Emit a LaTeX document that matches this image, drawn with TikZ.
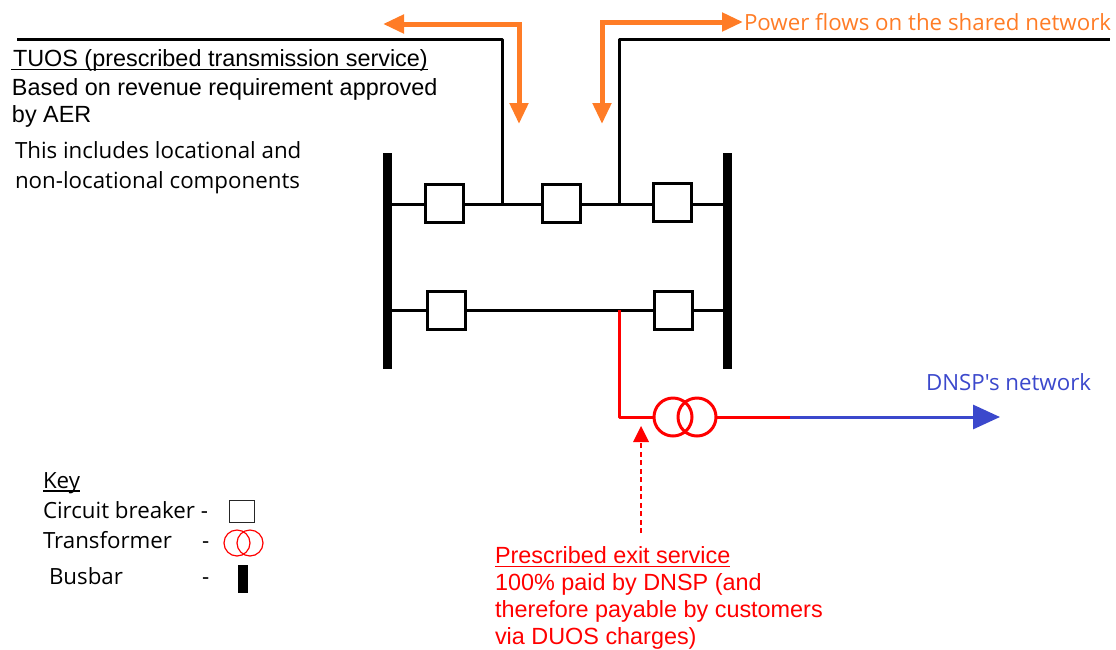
\documentclass[tikz,border=0pt]{standalone}
\usepackage{fontspec}
\setmainfont{Liberation Sans}
\newfontfamily\tah{Open Sans}
\usetikzlibrary{arrows.meta}
\definecolor{flow}{HTML}{FF7C26}
\definecolor{dnsp}{HTML}{3B48CC}
\newcommand\ulbox[2][4pt]{\setbox0\hbox{#2}\rlap{\rule[-#1]{\wd0}{1.3pt}}\box0}
\tikzset{
  x=1pt,y=-1pt,
  breaker/.style={draw=black,line width=3pt,fill=white,minimum width=38pt,minimum height=38pt,inner sep=0pt,outer sep=0pt},
  busbar/.style={fill=black,minimum width=9pt,minimum height=216pt,inner sep=0pt,outer sep=0pt},
  wire/.style={draw=black,line width=3pt,line join=round},
  redwire/.style={draw=red,line width=3pt,line join=round},
  txfm/.style={circle,draw=red,line width=3pt,minimum size=38pt,inner sep=0pt,outer sep=0pt},
  flowarrow/.style={draw=flow,line width=5pt,{Triangle[length=21pt,width=18pt]}-{Triangle[length=21pt,width=18pt]}},
  label/.style={inner sep=0pt,outer sep=0pt,anchor=base west,align=left},
  arial/.style={font=\fontsize{23.4}{28}\selectfont},
  tahoma/.style={font=\tah\fontsize{22.3}{26}\selectfont},
}
\begin{document}
\begin{tikzpicture}
\useasboundingbox (0,0) rectangle (1116,649);
% busbars
\node[busbar] (busL) at (387,261) {};
\node[busbar] (busR) at (727,261) {};
% junction coordinates
\coordinate (jt1) at (502,204);
\coordinate (jt2) at (619,204);
\coordinate (jb) at (619,310);
\coordinate (busLt) at (387,204);
\coordinate (busRt) at (727,204);
\coordinate (busLb) at (387,310);
\coordinate (busRb) at (727,310);
\coordinate (endL) at (17,39);
\coordinate (endR) at (1110,39);
% main wires
\draw[wire] (busLt) -- (busRt);
\draw[wire] (busLb) -- (busRb);
\draw[wire] (jt1) |- (endL);
\draw[wire] (jt2) |- (endR);
% breakers
\node[breaker] (cb1) at (444.5,203) {};
\node[breaker] (cb2) at (561.5,203) {};
\node[breaker] (cb3) at (672,202.5) {};
\node[breaker] (cb4) at (446.5,310) {};
\node[breaker] (cb5) at (673.5,310) {};
% transformer
\node[txfm] (t1) at (673,417) {};
\node[txfm] (t2) at (697,417) {};
\coordinate (mid) at (790,417);
\coordinate (dnspEnd) at (1000,417);
\draw[redwire] (jb) |- (t1.west);
\draw[redwire] (t2.east) -- (mid);
\draw[draw=dnsp,line width=3pt,-{Triangle[length=27pt,width=24pt]}] (mid) -- (dnspEnd);
% orange flows
\coordinate (fa0) at (519,124);
\coordinate (fa1) at (383,24);
\coordinate (fb0) at (602,124);
\coordinate (fb1) at (743,22);
\draw[flowarrow] (fa0) |- (fa1);
\draw[flowarrow] (fb0) |- (fb1);
% labels
\node[label,arial] (tuos) at (11,66) {\ulbox{\kern2pt TUOS (prescribed transmission service)}};
\node[label,arial] (aer) at (12,95) {Based on revenue requirement approved};
\node[label,arial] (aer2) at (12,122) {by AER};
\node[label,tahoma] (loc) at (15,158) {This includes locational and};
\node[label,tahoma] (loc2) at (15,188) {non-locational components};
\node[label,tahoma,text=flow] (pf) at (744,30) {Power flows on the shared network};
\node[label,tahoma,text=dnsp] (dn) at (926,390) {DNSP's network};
\node[label,arial,text=red] (ex) at (495,563) {\ulbox{Prescribed exit service}};
\node[label,arial,text=red] (ex2) at (495,590) {100\% paid by DNSP (and};
\node[label,arial,text=red] (ex3) at (495,617) {therefore payable by customers};
\node[label,arial,text=red] (ex4) at (495,644) {via DUOS charges)};
% pointer
\coordinate (pTip) at (641,426);
\coordinate (pFoot) at (641,533);
\coordinate (pBase) at (641,442);
\coordinate (pBl) at (633,442);
\coordinate (pBr) at (649,442);
\draw[red,line width=1.5pt,dash pattern=on 5pt off 3.5pt] (pFoot) -- (pBase);
\fill[red] (pTip) -- (pBl) -- (pBr) -- cycle;
% key
\node[label,tahoma] (k0) at (43,488) {\ulbox[3.5pt]{Key}};
\node[label,tahoma] (k1) at (43,518) {Circuit breaker -};
\node[label,tahoma] (k2) at (43,548) {Transformer};
\node[label,tahoma] (k2d) at (202,548) {-};
\node[label,tahoma] (k3) at (49,584) {Busbar};
\node[label,tahoma] (k3d) at (202,584) {-};
\node[draw=black!85,line width=1.6pt,minimum width=25pt,minimum height=22pt,inner sep=0pt] (kcb) at (242,511.5) {};
\node[circle,draw=red,line width=1.2pt,minimum size=26pt,inner sep=0pt] (kt1) at (237,543) {};
\node[circle,draw=red,line width=1.2pt,minimum size=26pt,inner sep=0pt] (kt2) at (250,543) {};
\node[fill=black,minimum width=10pt,minimum height=28pt,inner sep=0pt] (kb) at (243,579) {};
\end{tikzpicture}
\end{document}
